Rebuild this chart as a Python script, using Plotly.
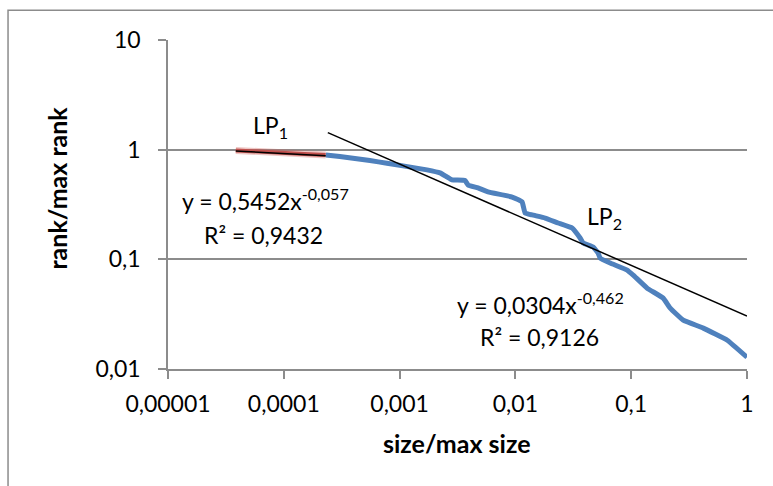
import plotly.graph_objects as go

# ---- data ----
lp1_x = [3.85e-5, 6.0e-5, 1.0e-4, 1.5e-4, 2.3e-4]
lp1_y = [0.985, 0.955, 0.935, 0.915, 0.896]

lp2_x = [2.308e-4, 3.05e-4, 5.54e-4, 7.77e-4, 1.069e-3, 1.724e-3, 2.232e-3, 2.566e-3,
         2.835e-3, 3.67e-3, 3.90e-3, 4.755e-3, 5.80e-3, 9.36e-3, 1.142e-2, 1.212e-2,
         1.393e-2, 1.805e-2, 2.337e-2, 3.09e-2, 3.62e-2, 3.85e-2, 4.69e-2, 5.18e-2,
         5.39e-2, 6.58e-2, 9.23e-2, 0.104, 0.1374, 0.189, 0.2172, 0.2813, 0.419,
         0.6757, 1.0]
lp2_y = [0.896, 0.865, 0.795, 0.753, 0.711, 0.654, 0.614, 0.564,
         0.530, 0.524, 0.477, 0.448, 0.412, 0.370, 0.334, 0.265,
         0.254, 0.238, 0.2145, 0.193, 0.1564, 0.1408, 0.1295, 0.1141,
         0.1027, 0.0925, 0.0798, 0.0718, 0.0546, 0.0443, 0.0359, 0.0279, 0.0236,
         0.0183, 0.0128]

# trendline end points (power fits shown on chart)
trend1_x = [3.85e-5, 2.3e-4]
trend1_y = [0.973, 0.879]
trend2_x = [2.4e-4, 1.0]
trend2_y = [1.43, 0.0304]

x_tickvals = [1e-5, 1e-4, 1e-3, 1e-2, 1e-1, 1]
x_ticktext = ["0,00001", "0,0001", "0,001", "0,01", "0,1", "1"]
y_tickvals = [0.01, 0.1, 1, 10]
y_ticktext = ["0,01", "0,1", "1", "10"]

FONT = "Lato"
GRAY = "#8c8c8c"
FS = 23

fig = go.Figure()
fig.add_trace(go.Scatter(x=lp1_x, y=lp1_y, mode="lines",
                         line=dict(color="rgba(205,95,90,0.35)", width=7), showlegend=False))
fig.add_trace(go.Scatter(x=lp1_x, y=lp1_y, mode="lines",
                         line=dict(color="#C0504D", width=4), showlegend=False))
fig.add_trace(go.Scatter(x=lp2_x, y=lp2_y, mode="lines", line_shape="spline",
                         line=dict(color="#4F81BD", width=5, smoothing=0.3), showlegend=False))
fig.add_trace(go.Scatter(x=trend1_x, y=trend1_y, mode="lines",
                         line=dict(color="black", width=1.5), showlegend=False))
fig.add_trace(go.Scatter(x=trend2_x, y=trend2_y, mode="lines",
                         line=dict(color="black", width=1.5), showlegend=False))

L, R, T, B = 168.3, 746.7, 40.3, 368.7
W, H = 773, 486

def px2paper_x(px):
    return (px - L) / (R - L)

def px2paper_y(py):
    return (B - py) / (B - T)

fig.update_layout(
    width=W, height=H,
    margin=dict(l=L, r=W - R, t=T, b=H - B, pad=0),
    paper_bgcolor="white", plot_bgcolor="white",
    font=dict(family=FONT, size=FS, color="black"),
    xaxis=dict(type="log", range=[-5, 0], tickvals=x_tickvals, ticktext=x_ticktext,
               showgrid=False, showline=True, linecolor=GRAY, linewidth=1.5,
               ticks="outside", ticklen=8, tickcolor=GRAY, tickwidth=1.5,
               ticklabelstandoff=6, zeroline=False,
               tickfont=dict(family=FONT, size=FS, color="black")),
    yaxis=dict(type="log", range=[-2, 1], tickvals=y_tickvals, ticktext=y_ticktext,
               showgrid=True, gridcolor=GRAY, gridwidth=1.5,
               showline=True, linecolor=GRAY, linewidth=1.5,
               ticks="outside", ticklen=8, tickcolor=GRAY, tickwidth=1.5,
               ticklabelstandoff=13, zeroline=False,
               tickfont=dict(family=FONT, size=FS, color="black")),
)

ann = [
    dict(text="<b>size/max size</b>", x=px2paper_x(457), y=px2paper_y(443), size=25),
    dict(text="<b>rank/max rank</b>", x=px2paper_x(57), y=px2paper_y(188), textangle=-90, size=25),
    dict(text="LP<sub>1</sub>", x=px2paper_x(271), y=px2paper_y(127), size=FS),
    dict(text="y = 0,5452x<sup>-0,057</sup>", x=px2paper_x(266), y=px2paper_y(200), size=FS),
    dict(text="R² = 0,9432", x=px2paper_x(264), y=px2paper_y(235), size=FS),
    dict(text="LP<sub>2</sub>", x=px2paper_x(604), y=px2paper_y(217), size=FS),
    dict(text="y = 0,0304x<sup>-0,462</sup>", x=px2paper_x(540), y=px2paper_y(303), size=FS),
    dict(text="R² = 0,9126", x=px2paper_x(539), y=px2paper_y(337), size=FS),
]
for a in ann:
    size = a.pop("size")
    fig.add_annotation(xref="paper", yref="paper", showarrow=False,
                       xanchor="center", yanchor="middle",
                       font=dict(family=FONT, size=size, color="black"), **a)

# outer chart frame
fig.add_shape(type="rect", xref="paper", yref="paper",
              x0=px2paper_x(8.5), x1=px2paper_x(790), y0=px2paper_y(500), y1=px2paper_y(10.5),
              line=dict(color=GRAY, width=1.5), fillcolor="rgba(0,0,0,0)", layer="below")

fig.write_html("out.html")
